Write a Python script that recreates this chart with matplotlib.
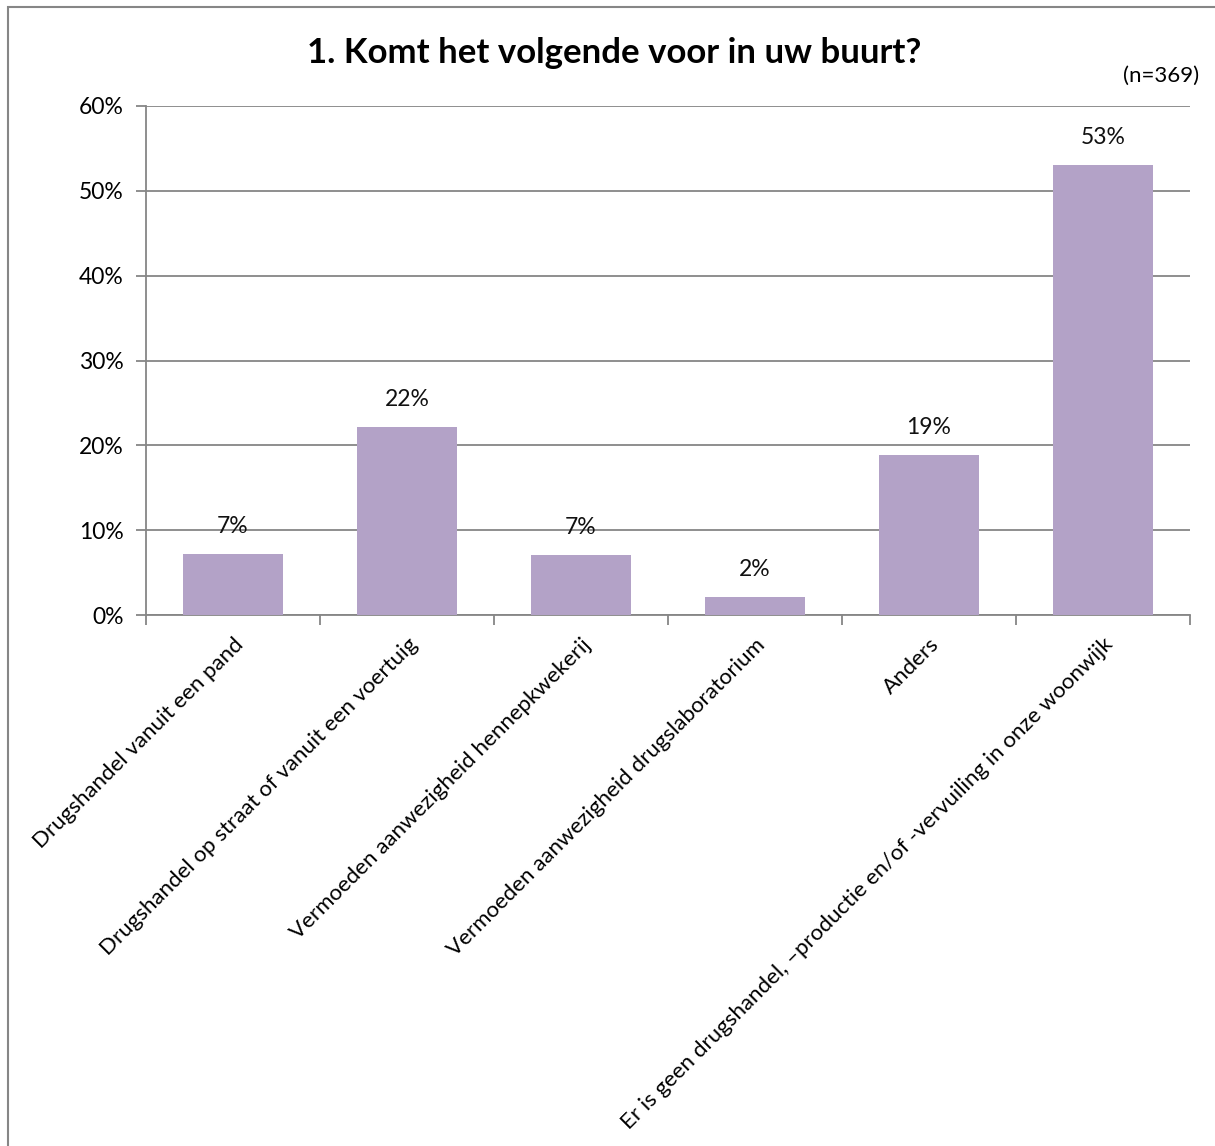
import numpy as np
import matplotlib.pyplot as plt
from matplotlib.patches import Rectangle
from matplotlib.ticker import FuncFormatter, MultipleLocator

plt.rcParams['font.family'] = ['Lato', 'DejaVu Sans']

categories = [
    "Drugshandel vanuit een pand",
    "Drugshandel op straat of vanuit een voertuig",
    "Vermoeden aanwezigheid hennepkwekerij",
    "Vermoeden aanwezigheid drugslaboratorium",
    "Anders",
    "Er is geen drugshandel, \u2013productie en/of -vervuiling in onze woonwijk",
]
values = [7.2, 22.2, 7.1, 2.1, 18.9, 53.1]
value_labels = ["7%", "22%", "7%", "2%", "19%", "53%"]

bar_color = "#B3A2C7"
grid_color = "#868686"

fig = plt.figure(figsize=(12.15, 11.46), dpi=100)
ax = fig.add_axes([146 / 1215, 1 - 615 / 1146, 1044 / 1215, 509 / 1146])

x = np.arange(len(categories))
ax.bar(x, values, width=0.57, color=bar_color, zorder=3)

for xi, v, lab in zip(x, values, value_labels):
    ax.text(xi, v + 2.0, lab, ha='center', va='bottom', fontsize=16.5, color='#111111')

ax.set_xlim(-0.5, len(categories) - 0.5)
ax.set_ylim(0, 60)
ax.yaxis.set_major_locator(MultipleLocator(10))
ax.yaxis.set_major_formatter(FuncFormatter(lambda v, p: f"{v:.0f}%"))
ax.grid(axis='y', color=grid_color, linewidth=1.3, zorder=0)

for s in ['top', 'right']:
    ax.spines[s].set_visible(False)
for s in ['left', 'bottom']:
    ax.spines[s].set_color(grid_color)
    ax.spines[s].set_linewidth(1.3)

ax.set_xticks(np.arange(-0.5, len(categories), 1.0))
ax.set_xticklabels([])
ax.set_xticks(x, minor=True)
ax.set_xticklabels(categories, minor=True, rotation=45, ha='right',
                   rotation_mode='anchor', fontsize=16)
ax.tick_params(axis='x', which='minor', length=0, pad=14)
ax.tick_params(axis='x', which='major', length=7, color=grid_color, width=1.3)
ax.tick_params(axis='y', length=7, color=grid_color, width=1.3, labelsize=16.5, pad=9)

fig.text(614 / 1215, 1 - 53 / 1146, "1. Komt het volgende voor in uw buurt?",
         ha='center', va='center', fontsize=25, fontweight='bold')
fig.text(1199 / 1215, 1 - 76 / 1146, "(n=369)", ha='right', va='center', fontsize=16)

# chart frame
fig.patches.append(Rectangle((8 / 1215, -0.01), 1.1, 1 - 7 / 1146 + 0.01,
                             transform=fig.transFigure, fill=False,
                             edgecolor=grid_color, linewidth=1.5))

fig.savefig("out.png", dpi=100)
